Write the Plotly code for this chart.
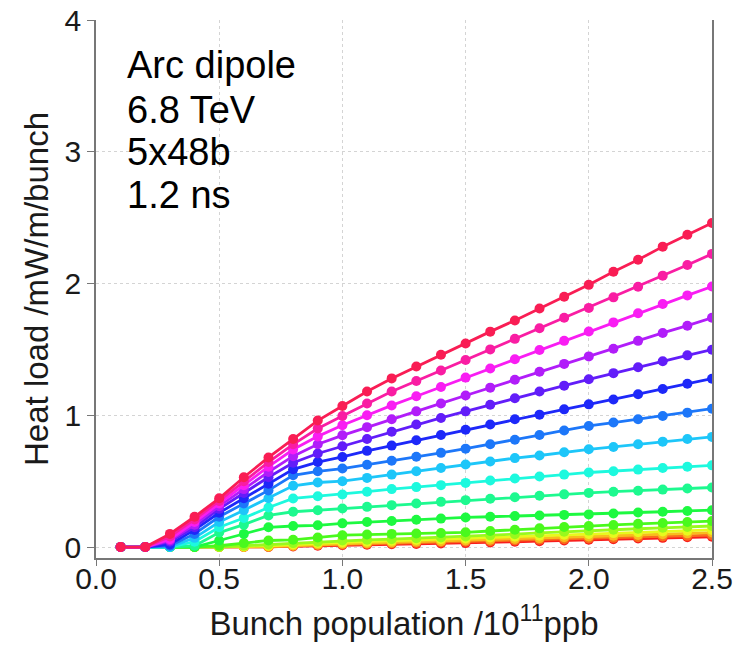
import colorsys
import plotly.graph_objects as go

# Bunch population (1e11 ppb)
x_vals = [0.1, 0.2, 0.3, 0.4, 0.5, 0.6, 0.7, 0.8, 0.9, 1.0, 1.1, 1.2, 1.3,
          1.4, 1.5, 1.6, 1.7, 1.8, 1.9, 2.0, 2.1, 2.2, 2.3, 2.4, 2.5]

# Heat load curves, from lowest (red) to highest (crimson)
c0 = [0, 0, 0, 0, 0, 0, 0, 0.005, 0.01, 0.015, 0.018, 0.021, 0.024, 0.027, 0.03, 0.035, 0.04, 0.045, 0.05, 0.055, 0.06, 0.065, 0.07, 0.074, 0.078]
c1 = [0, 0, 0, 0, 0, 0, 0, 0.01, 0.015, 0.02, 0.024, 0.028, 0.032, 0.036, 0.04, 0.045, 0.05, 0.055, 0.06, 0.065, 0.07, 0.075, 0.08, 0.085, 0.09]
c2 = [0, 0, 0, 0, 0, 0, 0.005, 0.01, 0.02, 0.025, 0.03, 0.035, 0.04, 0.045, 0.05, 0.056, 0.062, 0.068, 0.074, 0.08, 0.086, 0.092, 0.098, 0.104, 0.11]
c3 = [0, 0, 0, 0, 0, 0.005, 0.01, 0.02, 0.03, 0.035, 0.041, 0.047, 0.053, 0.059, 0.065, 0.072, 0.079, 0.086, 0.093, 0.10, 0.106, 0.112, 0.118, 0.124, 0.13]
c4 = [0, 0, 0, 0, 0, 0.01, 0.02, 0.03, 0.04, 0.05, 0.055, 0.06, 0.067, 0.073, 0.08, 0.089, 0.098, 0.107, 0.116, 0.125, 0.132, 0.139, 0.146, 0.153, 0.16]
c5 = [0, 0, 0, 0, 0.01, 0.03, 0.05, 0.055, 0.073, 0.09, 0.095, 0.10, 0.103, 0.106, 0.112, 0.122, 0.132, 0.142, 0.152, 0.16, 0.168, 0.176, 0.183, 0.19, 0.197]
c6 = [0, 0, 0, 0, 0.05, 0.10, 0.15, 0.16, 0.165, 0.18, 0.19, 0.198, 0.207, 0.216, 0.225, 0.23, 0.235, 0.24, 0.244, 0.248, 0.255, 0.262, 0.268, 0.274, 0.28]
c7 = [0, 0, 0, 0.01, 0.11, 0.17, 0.24, 0.268, 0.28, 0.293, 0.305, 0.318, 0.33, 0.343, 0.356, 0.367, 0.378, 0.39, 0.40, 0.411, 0.42, 0.428, 0.436, 0.444, 0.452]
c8 = [0, 0, 0, 0.04, 0.15, 0.22, 0.30, 0.369, 0.385, 0.399, 0.42, 0.44, 0.455, 0.47, 0.487, 0.505, 0.52, 0.535, 0.55, 0.566, 0.576, 0.588, 0.60, 0.61, 0.62]
c9 = [0, 0, 0, 0.07, 0.19, 0.28, 0.37, 0.465, 0.49, 0.50, 0.525, 0.55, 0.575, 0.60, 0.626, 0.65, 0.675, 0.695, 0.72, 0.742, 0.76, 0.78, 0.80, 0.82, 0.836]
c10 = [0, 0, 0.01, 0.10, 0.23, 0.33, 0.43, 0.545, 0.575, 0.596, 0.625, 0.655, 0.685, 0.715, 0.747, 0.78, 0.815, 0.85, 0.885, 0.919, 0.945, 0.97, 0.995, 1.02, 1.05]
c11 = [0, 0, 0.02, 0.13, 0.26, 0.37, 0.48, 0.59, 0.645, 0.684, 0.73, 0.77, 0.81, 0.85, 0.89, 0.93, 0.97, 1.005, 1.045, 1.083, 1.12, 1.16, 1.20, 1.24, 1.278]
c12 = [0, 0, 0.04, 0.15, 0.29, 0.41, 0.53, 0.64, 0.71, 0.765, 0.82, 0.875, 0.93, 0.98, 1.03, 1.08, 1.13, 1.18, 1.225, 1.273, 1.32, 1.365, 1.41, 1.455, 1.498]
c13 = [0, 0, 0.05, 0.17, 0.31, 0.44, 0.57, 0.69, 0.78, 0.848, 0.91, 0.97, 1.03, 1.09, 1.15, 1.21, 1.27, 1.33, 1.39, 1.447, 1.505, 1.565, 1.625, 1.68, 1.74]
c14 = [0, 0, 0.06, 0.19, 0.33, 0.47, 0.61, 0.74, 0.84, 0.924, 1.0, 1.075, 1.145, 1.215, 1.286, 1.355, 1.425, 1.495, 1.565, 1.636, 1.705, 1.775, 1.845, 1.91, 1.977]
c15 = [0, 0, 0.08, 0.21, 0.35, 0.50, 0.645, 0.78, 0.90, 0.995, 1.09, 1.18, 1.26, 1.34, 1.42, 1.50, 1.58, 1.66, 1.74, 1.815, 1.895, 1.975, 2.06, 2.14, 2.225]
c16 = [0, 0, 0.10, 0.23, 0.37, 0.53, 0.68, 0.82, 0.96, 1.07, 1.18, 1.28, 1.37, 1.46, 1.545, 1.635, 1.72, 1.81, 1.90, 1.99, 2.09, 2.18, 2.28, 2.37, 2.46]

curves = [c0, c1, c2, c3, c4, c5, c6, c7, c8, c9, c10, c11, c12, c13, c14, c15, c16]

x_ticks = [0.0, 0.5, 1.0, 1.5, 2.0, 2.5]
x_tick_text = ["0.0", "0.5", "1.0", "1.5", "2.0", "2.5"]
y_ticks = [0, 1, 2, 3, 4]

info_lines = ["Arc dipole", "6.8 TeV", "5x48b", "1.2 ns"]
info_y = [3.655, 3.32, 2.998, 2.672]

fig = go.Figure()
n = len(curves)
for i, ys in enumerate(curves):
    hue = (i * 345.0 / (n - 1)) / 360.0
    r, g, b = colorsys.hsv_to_rgb(hue, 0.88, 0.98)
    col = f"rgb({int(r*255)},{int(g*255)},{int(b*255)})"
    fig.add_trace(go.Scatter(
        x=x_vals, y=ys, mode="lines+markers",
        line=dict(color=col, width=2.8),
        marker=dict(color=col, size=10),
        showlegend=False, hoverinfo="skip",
    ))

for txt, yy in zip(info_lines, info_y):
    fig.add_annotation(x=0.118, y=yy, xref="x", yref="y", text=txt,
                       showarrow=False, xanchor="left", yanchor="middle",
                       font=dict(family="Liberation Sans, Arial", size=38, color="black"))

tick_font = dict(family="Liberation Sans, Arial", size=30, color="#1a1a1a")
title_font = dict(family="Liberation Sans, Arial", size=33, color="#1a1a1a")
fig.update_layout(
    width=737, height=646,
    margin=dict(l=96, r=25, t=20, b=88),
    paper_bgcolor="white", plot_bgcolor="white",
    xaxis=dict(
        range=[0, 2.5], tickvals=x_ticks, ticktext=x_tick_text,
        showgrid=True, gridcolor="#d4d4d4", griddash="dot", gridwidth=1,
        showline=True, linecolor="#777", linewidth=1.5,
        ticks="outside", ticklen=6, tickcolor="#777",
        tickfont=tick_font, zeroline=False, automargin=False,
        ticklabelstandoff=-13, ticklabeloverflow="allow",
        title=dict(text="Bunch population /10<sup>11</sup>ppb", font=title_font, standoff=18),
    ),
    yaxis=dict(
        range=[-0.083, 4.0], tickvals=y_ticks,
        showgrid=True, gridcolor="#d4d4d4", griddash="dot", gridwidth=1,
        showline=True, linecolor="#777", linewidth=1.5, mirror=True,
        ticks="outside", ticklen=7, tickcolor="#777",
        tickfont=tick_font, zeroline=False, automargin=False,
        ticklabelstandoff=0, ticklabeloverflow="allow",
        title=dict(text="Heat load /mW/m/bunch", font=title_font, standoff=6),
    ),
)

fig.write_html(
    "out.html",
    config={"displayModeBar": False},
    post_script="document.body.style.margin='0';document.body.style.overflow='hidden';",
)
